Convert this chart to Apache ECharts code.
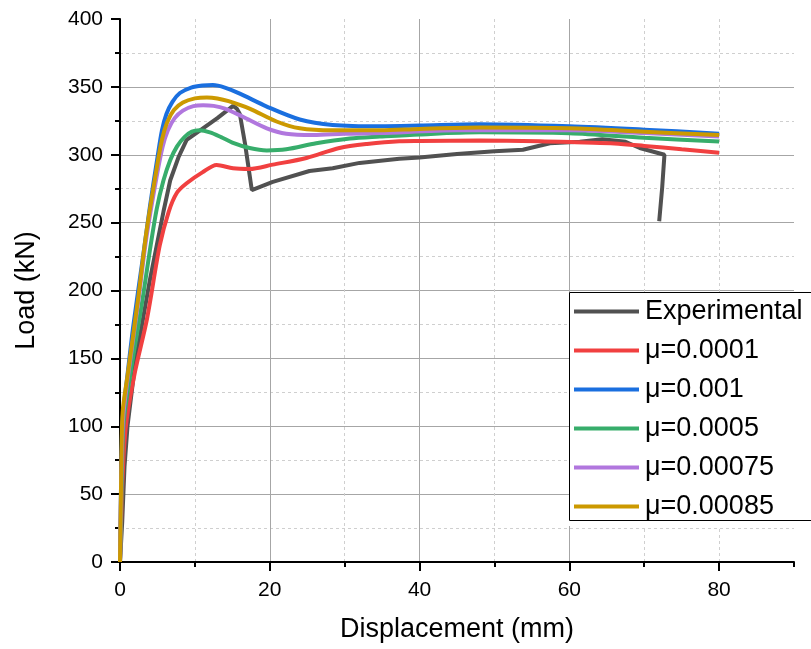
<!DOCTYPE html>
<html>
<head>
<meta charset="utf-8">
<script src="https://cdn.jsdelivr.net/npm/echarts@6/dist/echarts.min.js"></script>
<style>html,body{margin:0;padding:0;background:#fff}#c{width:811px;height:649px}</style>
</head>
<body>
<div id="c"></div>
<script>
// Series names (legend order)
const seriesNames = ['Experimental', 'μ=0.0001', 'μ=0.001', 'μ=0.0005', 'μ=0.00075', 'μ=0.00085'];

// [displacement (mm), load (kN)]
const experimental = [[0,0],[0.3,30],[0.6,70],[1.0,100],[2.0,145],[3.1,180],[4.0,208],[4.9,233],[5.8,258],[6.7,281],[7.8,298],[8.9,311],[10.7,318],[13,327],[15.1,336],[15.6,334],[16.0,330],[16.7,308],[17.6,274],[20.4,280],[25.3,288],[28.4,290],[32,294],[37.3,297],[40,298],[45,300.5],[50,302.5],[53.8,303.7],[57.4,308.5],[61.4,309.5],[64.4,311.5],[67.5,309.6],[69.4,305],[72.7,300],[72.4,276],[72,251]];
const mu00010 = [[0,0],[0.2,40],[0.5,80],[0.9,105],[2,140],[3.6,179],[5.3,233],[6.5,258],[7.6,272],[8.9,279],[11,287],[12.9,292.5],[15.1,290],[17.3,289.5],[20.4,292.7],[24.9,297.6],[29.3,305],[33,308],[37.3,310],[40,310.2],[48,310.5],[56,310],[62,309],[66,308.3],[70,306.5],[75,304],[80,301.5]];
const mu00100 = [[0,0],[0.15,60],[0.35,105],[1.0,138],[1.8,175],[3,222],[4,262],[5,298],[5.6,318],[6.2,330],[7.0,339],[8.0,345.5],[9.5,349.5],[11,351],[12.4,351.3],[14,349.5],[16,345],[19.6,335.5],[24,326],[28.4,322],[34.7,321],[40,321.5],[48,322.5],[60,321],[70,318.5],[80,315.5]];
const mu00050 = [[0,0],[0.2,50],[0.45,100],[1.2,132],[3.0,193],[4.0,230],[4.9,260],[5.8,281],[6.7,296],[7.6,306],[8.6,313],[9.6,317],[10.6,318],[12,316.5],[13.5,313],[15,309],[17.3,305],[19.6,303.2],[22.2,304],[26.2,308.5],[30.7,312],[34.7,313.4],[40,315],[48,316.5],[60,315.8],[70,312.5],[80,309.8]];
const mu00075 = [[0,0],[0.15,55],[0.4,105],[1,134],[2.4,190],[3.5,238],[4.9,284],[5.7,306],[6.4,318],[7.3,327],[8.4,332.5],[9.8,335.8],[11.1,336.5],[12.5,336],[14,334],[16.4,328],[19.6,319.5],[22.2,315.5],[25.8,314.6],[30,315.5],[34.7,316],[45,318],[60,318],[70,316],[80,313.5]];
const mu00085 = [[0,0],[0.15,60],[0.35,110],[1.0,137],[2.4,193],[3.5,242],[4.9,290],[5.6,311],[6.3,324],[7.2,333],[8.4,338.5],[10,341.5],[11.6,342.2],[13,341.5],[14.5,339.5],[17.3,334],[20.9,324.5],[24,319.5],[28.4,318],[34.7,318],[40,319],[48,320],[60,319.5],[70,317],[80,314.5]];

// Axis ticks
const xMajorTicks = [0, 20, 40, 60, 80];
const xRange = [0, 90];
const yRange = [0, 400];

const colors = ['#515151', '#F14040', '#1A6FDF', '#37AD6B', '#B177DE', '#CC9900'];
const seriesData = [experimental, mu00010, mu00100, mu00050, mu00075, mu00085];

const FONT = '"Liberation Sans", Arial, sans-serif';
const chart = echarts.init(document.getElementById('c'), null, {renderer: 'canvas'});

const option = {
  animation: false,
  backgroundColor: '#ffffff',
  color: colors,
  grid: {left: 120, right: 17, top: 19, bottom: 87, containLabel: false, outerBoundsMode: 'none'},
  legend: {
    orient: 'vertical',
    left: 569, top: 292,
    data: seriesNames,
    backgroundColor: '#ffffff',
    borderWidth: 0,
    borderRadius: 0,
    padding: [6, 40, 6, 3],
    itemWidth: 65,
    itemHeight: 26,
    itemGap: 12,
    itemStyle: {opacity: 0},
    lineStyle: {width: 4},
    textStyle: {fontFamily: FONT, fontSize: 27, color: '#000', lineHeight: 26, padding: [0,0,0,1]},
    selectedMode: false
  },
  // legend frame (runs past the right edge of the picture, as in the original)
  graphic: [{
    type: 'rect', z: 100, silent: true,
    shape: {x: 569.5, y: 292.5, width: 280, height: 228},
    style: {fill: 'none', stroke: '#000', lineWidth: 1}
  }],
  xAxis: [
    {
      type: 'value', min: xRange[0], max: xRange[1], interval: 10,
      position: 'bottom',
      axisLine: {show: true, onZero: false, lineStyle: {color: '#000', width: 2}},
      axisTick: {show: true, length: 5, lineStyle: {color: '#000', width: 2}},
      axisLabel: {show: false},
      splitLine: {show: true, showMaxLine: false, showMinLine: false, lineStyle: {color: '#cfcfcf', type: [3, 3], width: 1}}
    },
    {
      type: 'value', min: xRange[0], max: xRange[1], interval: 20,
      position: 'bottom',
      name: 'Displacement (mm)', nameLocation: 'middle', nameGap: 54,
      nameTextStyle: {fontFamily: FONT, fontSize: 27, color: '#000'},
      axisLine: {show: false},
      axisTick: {show: true, length: 9, customValues: xMajorTicks, lineStyle: {color: '#000', width: 2}},
      axisLabel: {show: true, customValues: xMajorTicks, margin: 18, fontFamily: FONT, fontSize: 21, color: '#000'},
      splitLine: {show: true, showMaxLine: false, showMinLine: false, lineStyle: {color: '#a6a6a6', width: 1}}
    }
  ],
  yAxis: {
    type: 'value', min: yRange[0], max: yRange[1], interval: 50,
    name: 'Load (kN)', nameLocation: 'middle', nameGap: 80,
    nameTextStyle: {fontFamily: FONT, fontSize: 27, color: '#000'},
    axisLine: {show: true, onZero: false, lineStyle: {color: '#000', width: 2}},
    axisTick: {show: true, length: 9, lineStyle: {color: '#000', width: 2}},
    minorTick: {show: true, splitNumber: 2, length: 5, lineStyle: {color: '#000', width: 2}},
    axisLabel: {margin: 17, fontFamily: FONT, fontSize: 21, color: '#000'},
    splitLine: {show: true, showMaxLine: false, showMinLine: false, lineStyle: {color: '#a6a6a6', width: 1}},
    minorSplitLine: {show: true, lineStyle: {color: '#cfcfcf', type: [3, 3], width: 1}}
  },
  series: seriesNames.map((n, i) => ({
    name: n,
    type: 'line',
    xAxisIndex: 0,
    data: seriesData[i],
    symbol: 'none',
    showSymbol: false,
    smooth: i === 0 ? false : 0.3,
    lineStyle: {width: 4, color: colors[i]},
    itemStyle: {color: colors[i]},
    z: 2 + i
  }))
};
chart.setOption(option);
</script>
</body>
</html>
